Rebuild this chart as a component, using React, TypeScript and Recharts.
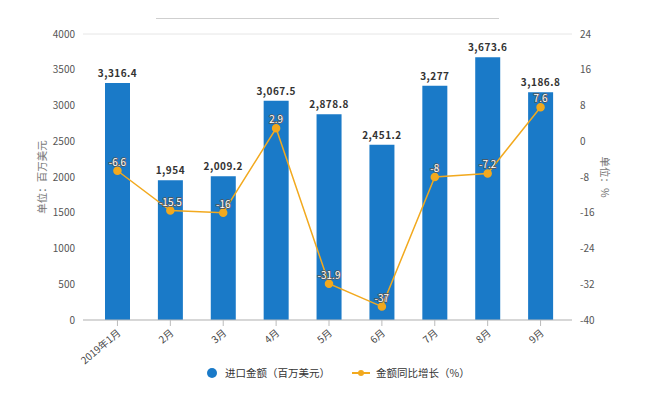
import React from "react";
import {
  ComposedChart,
  Bar,
  Line,
  XAxis,
  YAxis,
  CartesianGrid,
  Legend,
  LabelList,
} from "recharts";

const MONTHS = ["2019年1月", "2月", "3月", "4月", "5月", "6月", "7月", "8月", "9月"];
const IMPORT_VALUE = [3316.4, 1954, 2009.2, 3067.5, 2878.8, 2451.2, 3277, 3673.6, 3186.8];
const YOY_GROWTH = [-6.6, -15.5, -16, 2.9, -31.9, -37, -8, -7.2, 7.6];
const LEFT_TICKS = [0, 500, 1000, 1500, 2000, 2500, 3000, 3500, 4000];
const RIGHT_TICKS = [-40, -32, -24, -16, -8, 0, 8, 16, 24];

const BAR_COLOR = "#1a7ac8";
const LINE_COLOR = "#f2a91e";
const FONT = '"Noto Sans CJK SC", "Noto Sans", sans-serif';

const data = MONTHS.map((m, i) => ({
  month: m,
  amount: IMPORT_VALUE[i],
  growth: YOY_GROWTH[i],
}));

function fmtAmount(v: number) {
  return v.toLocaleString("en-US", { maximumFractionDigits: 1 });
}

function MonthTick(props: any) {
  const { x, y, payload } = props;
  return (
    <text
      x={x + 4}
      y={y + 6}
      transform={`rotate(-40, ${x + 4}, ${y + 6})`}
      textAnchor="end"
      fontSize={10}
      fill="#444"
      fontFamily={FONT}
    >
      {payload.value}
    </text>
  );
}

function LegendContent() {
  return (
    <div
      style={{
        display: "flex",
        alignItems: "center",
        fontSize: 10.5,
        color: "#333",
        fontFamily: FONT,
        marginLeft: 193,
      }}
    >
      <svg width={12} height={12} style={{ marginRight: 7 }}>
        <circle cx={6} cy={6} r={5} fill={BAR_COLOR} />
      </svg>
      <span>进口金额（百万美元）</span>
      <svg width={18} height={12} style={{ marginLeft: 22, marginRight: 6 }}>
        <line x1={0} y1={6} x2={18} y2={6} stroke={LINE_COLOR} strokeWidth={2} />
        <circle cx={9} cy={6} r={3} fill={LINE_COLOR} />
      </svg>
      <span>金额同比增长（%）</span>
    </div>
  );
}

export default function App() {
  return (
    <div style={{ width: 650, height: 395, position: "relative", background: "#fff" }}>
      <style>{"body{margin:0}"}</style>
      <div
        style={{
          position: "absolute",
          left: 156,
          top: 18,
          width: 343,
          borderTop: "1px solid #cfcfcf",
        }}
      />
      <ComposedChart
        width={650}
        height={395}
        data={data}
        margin={{ top: 34, right: 18, bottom: 10, left: 13 }}
      >
        <CartesianGrid vertical={false} stroke="#e6e6e6" />
        <XAxis
          dataKey="month"
          tick={<MonthTick />}
          tickLine={{ stroke: "#bbb" }}
          axisLine={{ stroke: "#bbb" }}
          interval={0}
          height={45}
          padding={{ left: 8, right: 5 }}
        />
        <YAxis
          yAxisId="left"
          domain={[0, 4000]}
          ticks={LEFT_TICKS}
          width={70}
          axisLine={false}
          tickLine={false}
          tick={{ fontSize: 10, fill: "#555", fontFamily: FONT }}
          label={{
            value: "单位：百万美元",
            angle: -90,
            position: "insideLeft",
            offset: 29,
            style: { fontSize: 10.5, fill: "#777", fontFamily: FONT, textAnchor: "middle" },
          }}
        />
        <YAxis
          yAxisId="right"
          orientation="right"
          domain={[-40, 24]}
          ticks={RIGHT_TICKS}
          width={60}
          axisLine={false}
          tickLine={false}
          tick={{ fontSize: 10, fill: "#555", fontFamily: FONT }}
          label={{
            value: "单位：%",
            angle: 90,
            position: "insideRight",
            offset: 27,
            style: { fontSize: 10.5, fill: "#777", fontFamily: FONT, textAnchor: "middle" },
          }}
        />
        <Legend verticalAlign="bottom" height={20} content={<LegendContent />} />
        <Bar
          yAxisId="left"
          dataKey="amount"
          fill={BAR_COLOR}
          barSize={25}
          isAnimationActive={false}
        >
          <LabelList
            dataKey="amount"
            position="top"
            offset={6}
            formatter={(v: any) => fmtAmount(Number(v))}
            style={{ fontSize: 10, fontWeight: 700, fill: "#333", fontFamily: FONT, letterSpacing: 0.5 }}
          />
        </Bar>
        <Line
          yAxisId="right"
          dataKey="growth"
          stroke={LINE_COLOR}
          strokeWidth={1.5}
          dot={{ r: 3.5, fill: LINE_COLOR, stroke: LINE_COLOR }}
          isAnimationActive={false}
        >
          <LabelList
            dataKey="growth"
            position="top"
            offset={5}
            style={{
              fontSize: 10,
              fill: "#fff",
              stroke: "#555",
              strokeWidth: 1.5,
              paintOrder: "stroke",
              fontFamily: FONT,
            }}
          />
        </Line>
      </ComposedChart>
    </div>
  );
}
